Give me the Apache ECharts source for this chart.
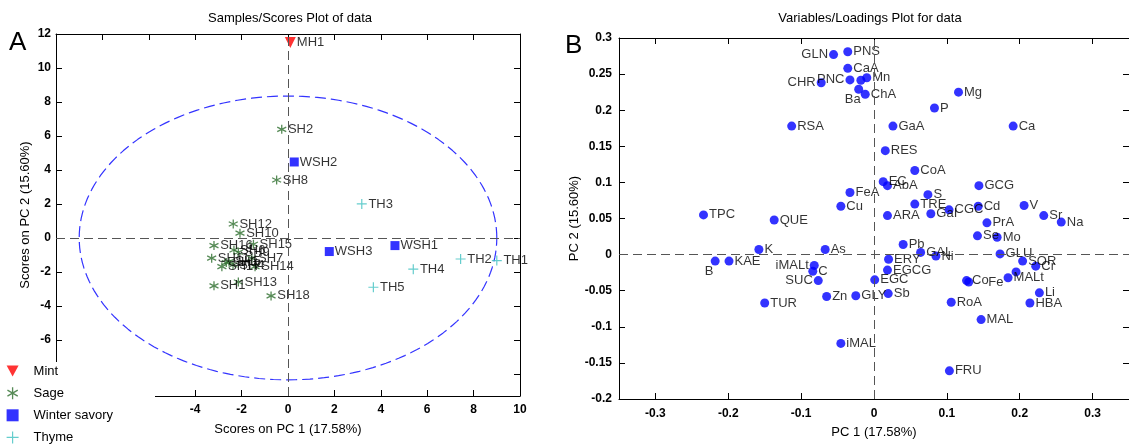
<!DOCTYPE html>
<html>
<head>
<meta charset="utf-8">
<script src="https://cdn.jsdelivr.net/npm/echarts@6/dist/echarts.min.js"></script>
<style>
html,body{margin:0;padding:0;background:#fff;}
#c{width:1129px;height:444px;}
</style>
</head>
<body>
<div id="c"></div>
<script>
// ---------- Panel A: scores ----------
const mintNames = ['MH1'];
const mintPC1 = [0.1];
const mintPC2 = [11.5];

const sageNames = ['SH1','SH2','SH3','SH4','SH5','SH6','SH7','SH8','SH9','SH10','SH11','SH12','SH13','SH14','SH15','SH16','SH17','SH18'];
const sagePC1 = [-3.19,-0.27,-2.66,-2.37,-2.54,-2.33,-1.56,-0.49,-2.14,-2.07,-3.29,-2.36,-2.14,-1.42,-1.49,-3.19,-2.85,-0.73];
const sagePC2 = [-2.82, 6.39,-1.45,-1.59,-1.39,-0.71,-1.19, 3.41,-0.84, 0.28,-1.19, 0.82,-2.59,-1.69,-0.37,-0.45,-1.69,-3.41];

const winterNames = ['WSH1','WSH2','WSH3'];
const winterPC1 = [4.61, 0.27, 1.78];
const winterPC2 = [-0.45, 4.47, -0.80];

const thymeNames = ['TH1','TH2','TH3','TH4','TH5'];
const thymePC1 = [9.0, 7.44, 3.18, 5.40, 3.68];
const thymePC2 = [-1.33, -1.24, 2.00, -1.84, -2.90];

// 95% confidence ellipse (semi-axes in score units)
const ellipseA = 9.0;
const ellipseB = 8.35;

const aXTicks = [-10,-8,-6,-4,-2,0,2,4,6,8,10];
const aYTicks = [-8,-6,-4,-2,0,2,4,6,8,10,12];

// ---------- Panel B: loadings ----------
const varNames = ['GLN','PNS','CaA','CHR','PNC','','Mn','Ba','ChA','RSA','GaA','P','Mg','Ca','RES','CoA','EC','AbA','FeA','S','Cu','TRE','GCG','Cd','V','Sr','Na','ARA','GaI','CGC','TPC','QUE','PrA','Se','Mo','Pb','GAL','Ni','ERY','GLU','K','As','B','KAE','iMALt','C','SUC','EGCG','EGC','SOR','Cr','','MALt','Co','Fe','Li','HBA','RoA','MAL','TUR','Zn','GLY','Sb','iMAL','FRU'];
const varPC1 = [-0.0555,-0.036,-0.036,-0.0725,-0.033,-0.018,-0.0099,-0.021,-0.012,-0.113,0.026,0.083,0.116,0.191,0.0155,0.056,0.0126,0.0185,-0.033,0.074,-0.0455,0.056,0.144,0.143,0.206,0.233,0.257,0.0185,0.078,0.103,-0.234,-0.137,0.155,0.142,0.169,0.040,0.064,0.085,0.020,0.173,-0.158,-0.067,-0.218,-0.199,-0.082,-0.084,-0.0765,0.0185,0.001,0.204,0.222,0.195,0.184,0.127,0.130,0.227,0.214,0.106,0.147,-0.150,-0.065,-0.025,0.0195,-0.0455,0.1035];
const varPC2 = [0.277,0.281,0.258,0.238,0.242,0.2415,0.245,0.229,0.222,0.178,0.178,0.203,0.225,0.178,0.144,0.1165,0.101,0.0955,0.086,0.083,0.067,0.070,0.0955,0.067,0.068,0.054,0.045,0.054,0.0566,0.062,0.055,0.048,0.044,0.026,0.024,0.014,0.003,-0.002,-0.0065,0.001,0.007,0.007,-0.009,-0.009,-0.015,-0.023,-0.036,-0.0215,-0.035,-0.009,-0.016,-0.024,-0.032,-0.036,-0.038,-0.053,-0.067,-0.066,-0.090,-0.067,-0.058,-0.057,-0.054,-0.123,-0.161];

const bXTicks = [-0.3,-0.2,-0.1,0,0.1,0.2,0.3];
const bYTicks = [-0.2,-0.15,-0.1,-0.05,0,0.05,0.1,0.15,0.2,0.25,0.3];

// label placement (style only)
const labelLeft = ['GLN','CHR','PNC','iMALt','SUC'];
const labelBelow = ['B','Ba'];
const labelShifted = ['Fe'];

// ---------- build ----------
const FONT = '"Liberation Sans", Arial, Helvetica, sans-serif';
function pts(names, xs, ys){ return names.map((n,i)=>({name:n, value:[xs[i], ys[i]]})); }
const ellipsePts = [];
for (let i=0;i<=180;i++){ const t = i/180*2*Math.PI; ellipsePts.push([ellipseA*Math.cos(t), ellipseB*Math.sin(t)]); }

const asterisk = 'path://M5 0 L5 10 M0.7 2.5 L9.3 7.5 M9.3 2.5 L0.7 7.5';
const plus = 'path://M5 0 L5 10 M0 5 L10 5';
const downTri = 'path://M0 0 L10 0 L5 9 Z';
const SAGE = '#2d6e2d';
const THYME = '#3fc1c0';

const tickLabel = {fontFamily: FONT, fontSize: 12, fontWeight: 'bold', color: '#000'};
const axisNameStyle = {fontFamily: FONT, fontSize: 13, color: '#000'};
const lbl = {show:true, position:'right', distance:1, formatter:'{b}', fontFamily: FONT, fontSize: 13, color:'#000'};
const fmt = v => String(Math.round(v*100)/100);

function frameAxis(extra){
  return Object.assign({
    type:'value', splitLine:{show:false},
    axisLine:{show:true, onZero:false, lineStyle:{color:'#000', width:1}},
    axisTick:{show:true, inside:true, length:6, lineStyle:{color:'#000'}},
  }, extra);
}

const zeroLines = {
  silent:true, symbol:['none','none'], animation:false,
  label:{show:false},
  lineStyle:{type:[9,5], color:'#555', width:1},
  data:[{xAxis:0},{yAxis:0}]
};

const rightData = varNames.map((n,i)=>{
  const item = {name:n, value:[varPC1[i], varPC2[i]]};
  if (labelLeft.includes(n)) item.label = {position:'left'};
  if (labelBelow.includes(n)) item.label = {position:'bottom', offset:[-6,-2]};
  if (labelShifted.includes(n)) item.label = {offset:[14,0]};
  return item;
});

const option = {
  animation:false,
  backgroundColor:'#fff',
  textStyle:{fontFamily: FONT},
  grid:[
    {left:56, top:34, width:464, height:362},
    {left:619, top:38, width:510, height:365}
  ],
  xAxis:[
    frameAxis({gridIndex:0, position:'bottom', min:-10, max:10,
      axisTick:{show:true, inside:true, length:6, customValues:aXTicks, lineStyle:{color:'#000'}},
      axisLabel:Object.assign({customValues:aXTicks, margin:8}, tickLabel),
      name:'Scores on PC 1 (17.58%)', nameLocation:'middle', nameGap:27, nameTextStyle:axisNameStyle}),
    frameAxis({gridIndex:0, position:'top', min:-10, max:10,
      axisTick:{show:true, inside:true, length:6, customValues:aXTicks, lineStyle:{color:'#000'}},
      axisLabel:{show:false}}),
    frameAxis({gridIndex:1, position:'bottom', min:-0.35, max:0.35,
      axisTick:{show:true, inside:true, length:6, customValues:bXTicks, lineStyle:{color:'#000'}},
      axisLabel:Object.assign({customValues:bXTicks, margin:9, formatter:fmt}, tickLabel),
      name:'PC 1 (17.58%)', nameLocation:'middle', nameGap:27, nameTextStyle:axisNameStyle}),
    frameAxis({gridIndex:1, position:'top', min:-0.35, max:0.35,
      axisTick:{show:true, inside:true, length:6, customValues:bXTicks, lineStyle:{color:'#000'}},
      axisLabel:{show:false}})
  ],
  yAxis:[
    frameAxis({gridIndex:0, position:'left', min:-9.3, max:12,
      axisTick:{show:true, inside:true, length:6, customValues:aYTicks, lineStyle:{color:'#000'}},
      axisLabel:Object.assign({customValues:aYTicks, margin:5}, tickLabel),
      name:'Scores on PC 2 (15.60%)', nameLocation:'middle', nameGap:24, nameTextStyle:axisNameStyle}),
    frameAxis({gridIndex:0, position:'right', min:-9.3, max:12,
      axisTick:{show:true, inside:true, length:6, customValues:aYTicks, lineStyle:{color:'#000'}},
      axisLabel:{show:false}}),
    frameAxis({gridIndex:1, position:'left', min:-0.2, max:0.3,
      axisTick:{show:true, inside:true, length:6, customValues:bYTicks, lineStyle:{color:'#000'}},
      axisLabel:Object.assign({customValues:bYTicks, margin:7, formatter:fmt}, tickLabel),
      name:'PC 2 (15.60%)', nameLocation:'middle', nameGap:28, nameTextStyle:axisNameStyle}),
    frameAxis({gridIndex:1, position:'right', min:-0.2, max:0.3,
      axisTick:{show:true, inside:true, length:6, customValues:bYTicks, lineStyle:{color:'#000'}},
      axisLabel:{show:false}})
  ],
  legend:{
    orient:'vertical', left:6, bottom:0, padding:0, itemGap:9, itemWidth:12, itemHeight:12, z:60,
    textStyle:{fontFamily: FONT, fontSize:13, color:'#000', padding:[0,0,0,10]},
    data:[
      {name:'Mint', icon:downTri, itemStyle:{color:'#ff0000'}},
      {name:'Sage', icon:asterisk, itemStyle:{color:'transparent', borderColor:SAGE, borderWidth:1.3}},
      {name:'Winter savory', icon:'rect', itemStyle:{color:'#0000ff'}},
      {name:'Thyme', icon:plus, itemStyle:{color:'transparent', borderColor:THYME, borderWidth:1.2}}
    ]
  },
  graphic:[
    {type:'rect', shape:{x:0, y:362, width:155, height:82}, style:{fill:'#fff'}, z:50},
    {type:'text', x:290, y:12, z:60, style:{text:'Samples/Scores Plot of data', font:'13px '+FONT, fill:'#000', textAlign:'center'}},
    {type:'text', x:870, y:12, z:60, style:{text:'Variables/Loadings Plot for data', font:'13px '+FONT, fill:'#000', textAlign:'center'}},
    {type:'text', x:9, y:30, z:60, style:{text:'A', font:'26px '+FONT, fill:'#000'}},
    {type:'text', x:565, y:33, z:60, style:{text:'B', font:'26px '+FONT, fill:'#000'}}
  ],
  series:[
    {type:'line', xAxisIndex:0, yAxisIndex:0, data:ellipsePts, showSymbol:false, symbol:'none', silent:true,
      lineStyle:{color:'#3333ff', width:1.2, type:[11,5]}, z:1, markLine:zeroLines, legendHoverLink:false},
    {name:'Mint', type:'scatter', xAxisIndex:0, yAxisIndex:0, data:pts(mintNames, mintPC1, mintPC2),
      symbol:downTri, symbolSize:11, itemStyle:{color:'#ff0000'}, label:lbl},
    {name:'Sage', type:'scatter', xAxisIndex:0, yAxisIndex:0, data:pts(sageNames, sagePC1, sagePC2),
      symbol:asterisk, symbolSize:9, itemStyle:{color:'transparent', borderColor:SAGE, borderWidth:1.3}, label:lbl},
    {name:'Winter savory', type:'scatter', xAxisIndex:0, yAxisIndex:0, data:pts(winterNames, winterPC1, winterPC2),
      symbol:'rect', symbolSize:9, itemStyle:{color:'#0000ff'}, label:lbl},
    {name:'Thyme', type:'scatter', xAxisIndex:0, yAxisIndex:0, data:pts(thymeNames, thymePC1, thymePC2),
      symbol:plus, symbolSize:10, itemStyle:{color:'transparent', borderColor:THYME, borderWidth:1.2}, label:lbl},
    {name:'Loadings', type:'scatter', xAxisIndex:2, yAxisIndex:2, data:rightData,
      symbol:'circle', symbolSize:9, itemStyle:{color:'#0000ff'}, label:lbl, markLine:zeroLines}
  ]
};

const chart = echarts.init(document.getElementById('c'), null, {renderer:'canvas'});
chart.setOption(option);
</script>
</body>
</html>
